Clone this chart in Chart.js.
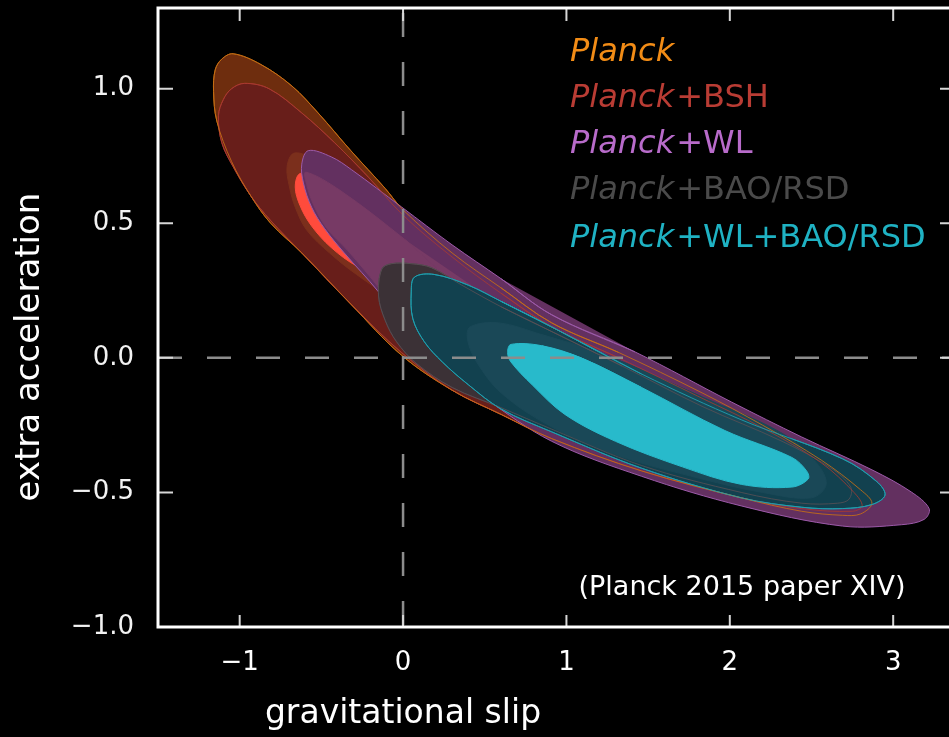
<!DOCTYPE html>
<html>
<head>
<meta charset="utf-8">
<script src="https://cdn.jsdelivr.net/npm/chart.js@4.4.1/dist/chart.umd.min.js"></script>
<style>
  html, body { margin: 0; padding: 0; background: #000; overflow: hidden; }
  canvas { display: block; }
</style>
</head>
<body>
<canvas id="myChart" width="960" height="737"></canvas>
<script>
// contour outlines, [gravitational slip, extra acceleration]
var planck95 = [
  [0.91, 0.13], [1.32, 0.02], [1.83, -0.13], [2.20, -0.25], [2.56, -0.38], [2.80, -0.49],
  [2.87, -0.54], [2.80, -0.58], [2.69, -0.585], [2.44, -0.57], [2.07, -0.52], [1.46, -0.42],
  [0.91, -0.30], [0.60, -0.21], [0.30, -0.12], [-0.01, 0.01], [-0.32, 0.20], [-0.62, 0.39],
  [-0.81, 0.50], [-0.93, 0.60], [-1.05, 0.73], [-1.14, 0.88], [-1.16, 0.99], [-1.15, 1.07],
  [-1.11, 1.11], [-1.04, 1.13], [-0.87, 1.09], [-0.68, 1.01], [-0.52, 0.91], [-0.32, 0.77],
  [-0.11, 0.63], [0.0, 0.55], [0.30, 0.39], [0.60, 0.26]
];
var planck68 = [
  [-0.315, 0.675], [-0.01, 0.535], [0.30, 0.38], [0.60, 0.255], [0.97, 0.12], [0.85, 0.10],
  [0.48, 0.165], [0.11, 0.21], [-0.10, 0.24], [-0.285, 0.31], [-0.45, 0.39], [-0.59, 0.475],
  [-0.66, 0.56], [-0.695, 0.635], [-0.71, 0.71], [-0.67, 0.76], [-0.56, 0.745]
];
var bsh95 = [
  [0.91, 0.115], [1.32, 0.0], [1.83, -0.15], [2.20, -0.26], [2.56, -0.39], [2.76, -0.50],
  [2.81, -0.55], [2.75, -0.57], [2.44, -0.56], [2.07, -0.52], [1.46, -0.42], [0.91, -0.30],
  [0.60, -0.21], [0.30, -0.12], [-0.01, 0.02], [-0.32, 0.20], [-0.62, 0.39], [-0.81, 0.51],
  [-0.93, 0.60], [-1.04, 0.71], [-1.11, 0.80], [-1.13, 0.90], [-1.10, 0.96], [-1.05, 1.0],
  [-0.97, 1.02], [-0.82, 1.0], [-0.62, 0.91], [-0.42, 0.80], [-0.21, 0.67], [0.0, 0.53],
  [0.30, 0.375], [0.60, 0.24]
];
var bsh68 = [
  [-0.25, 0.60], [0.11, 0.44], [0.60, 0.25], [1.09, 0.09], [1.34, 0.0], [1.15, -0.03],
  [0.73, 0.06], [0.30, 0.19], [-0.07, 0.29], [-0.28, 0.34], [-0.44, 0.41], [-0.56, 0.49],
  [-0.63, 0.565], [-0.66, 0.635], [-0.63, 0.685], [-0.50, 0.67]
];
var wl95 = [
  [0.91, 0.16], [1.42, 0.022], [2.01, -0.164], [2.44, -0.294], [2.87, -0.416], [3.11, -0.498],
  [3.22, -0.56], [3.19, -0.60], [3.05, -0.62], [2.69, -0.625], [2.07, -0.55], [1.46, -0.44],
  [0.91, -0.31], [0.50, -0.15], [0.19, -0.015], [0.01, 0.11], [-0.15, 0.245], [-0.36, 0.39],
  [-0.48, 0.48], [-0.56, 0.56], [-0.61, 0.65], [-0.62, 0.72], [-0.58, 0.77], [-0.44, 0.747],
  [-0.315, 0.699], [-0.01, 0.561], [0.30, 0.42], [0.60, 0.294]
];
var wl68 = [
  [0.30, 0.29], [0.73, 0.14], [1.22, -0.01], [1.83, -0.18], [2.07, -0.28], [1.95, -0.36],
  [1.52, -0.38], [0.91, -0.27], [0.48, -0.13], [0.20, -0.01], [0.025, 0.11], [-0.135, 0.25],
  [-0.34, 0.40], [-0.465, 0.48], [-0.545, 0.565], [-0.59, 0.645], [-0.595, 0.69], [-0.38, 0.62],
  [0.01, 0.44]
];
var bao95 = [
  [0.97, 0.08], [1.34, -0.03], [1.83, -0.18], [2.32, -0.31], [2.62, -0.41], [2.74, -0.48],
  [2.73, -0.525], [2.66, -0.54], [2.44, -0.54], [2.07, -0.50], [1.46, -0.40], [0.91, -0.265],
  [0.60, -0.185], [0.30, -0.11], [0.08, -0.02], [-0.04, 0.06], [-0.11, 0.14], [-0.15, 0.23],
  [-0.13, 0.33], [-0.07, 0.35], [0.05, 0.35], [0.175, 0.335], [0.36, 0.27], [0.60, 0.19]
];
var bao68 = [
  [1.22, 0.015], [1.83, -0.145], [2.32, -0.28], [2.53, -0.39], [2.59, -0.47], [2.50, -0.52],
  [2.20, -0.50], [1.83, -0.45], [1.30, -0.36], [0.89, -0.25], [0.60, -0.13], [0.45, -0.015],
  [0.395, 0.067], [0.41, 0.115], [0.585, 0.13], [0.85, 0.086]
];
var wlbao95 = [
  [0.91, 0.115], [1.46, -0.06], [2.07, -0.23], [2.69, -0.375], [2.90, -0.46], [2.95, -0.51],
  [2.87, -0.545], [2.69, -0.56], [2.44, -0.555], [2.07, -0.52], [1.46, -0.41], [0.91, -0.275],
  [0.60, -0.19], [0.40, -0.10], [0.24, -0.015], [0.13, 0.06], [0.06, 0.145], [0.05, 0.245],
  [0.07, 0.30], [0.19, 0.31], [0.40, 0.27], [0.60, 0.21]
];
var wlbao68 = [
  [1.09, 0.0], [1.46, -0.11], [1.97, -0.27], [2.38, -0.37], [2.47, -0.42], [2.48, -0.45],
  [2.38, -0.48], [2.07, -0.47], [1.71, -0.405], [1.30, -0.31], [0.99, -0.21], [0.79, -0.10],
  [0.66, -0.015], [0.64, 0.02], [0.66, 0.05], [0.85, 0.045]
];

var xTicks = [-1, 0, 1, 2, 3];
var yTicks = [-1, -0.5, 0, 0.5, 1];
var legendRest = ['', '+BSH', '+WL', '+BAO/RSD', '+WL+BAO/RSD'];
var legendColors = ['#f28c16', '#b93c34', '#b86bca', '#4a4a4a', '#1fb2c3'];

// wrap the ends so the spline closes without a kink
function loop(arr) {
  var n = arr.length;
  var seq = [arr[n - 1]].concat(arr, [arr[0], arr[1]]);
  return seq.map(function(p) { return {x: p[0], y: p[1]}; });
}

// bottom to top: [contour, fill, outline]; fill null = outline only (seen through)
var layers = [
  [planck95, '#6e2d0e', '#b8660f'],
  [bsh95, '#681e1a', '#a5382e'],
  [planck68, '#7b2f1c', '#7b2f1c'],
  [bsh68, '#ff4b3c', '#ff4b3c'],
  [wl95, '#633060', '#9c5aa9'],
  [wl68, '#773a65', '#773a65'],
  [bao95, '#3b3136', '#4a4045'],
  [wlbao95, '#12414f', '#1c9fae'],
  [bao68, '#1a4857', '#1a4857'],
  [bao95, null, 'rgba(90,80,85,0.8)'],
  [bsh95, null, 'rgba(170,58,48,0.8)'],
  [planck95, null, 'rgba(200,110,20,0.85)'],
  [wlbao95, null, 'rgba(30,160,175,0.9)'],
  [wlbao68, '#28bacb', '#28bacb']
];

var datasets = layers.map(function(l, i) {
  return {
    data: loop(l[0]),
    showLine: true,
    fill: l[1] ? 'shape' : false,
    backgroundColor: l[1] || 'transparent',
    borderColor: l[2],
    borderWidth: 1,
    tension: 0.35,
    pointRadius: 0,
    order: 100 - i
  };
});

// dashed zero lines on top
datasets.push({
  data: [{x: 0, y: 1.3}, {x: 0, y: -1}],
  showLine: true, fill: false, borderColor: '#8c8c8c', borderWidth: 2.5,
  borderDash: [24, 25], borderDashOffset: 44, pointRadius: 0, order: 1
});
datasets.push({
  data: [{x: -1.5, y: 0}, {x: 3.36, y: 0}],
  showLine: true, fill: false, borderColor: '#8c8c8c', borderWidth: 2.5,
  borderDash: [24, 25], pointRadius: 0, order: 1
});

function minus(s) { return s.replace('-', '\u2212'); }

var framePlugin = {
  id: 'frame',
  afterDraw: function(chart) {
    var ctx = chart.ctx, a = chart.chartArea;
    var xs = chart.scales.x, ys = chart.scales.y;
    ctx.save();
    ctx.strokeStyle = '#d6d6d6';
    ctx.lineWidth = 2;
    ctx.beginPath();
    xTicks.forEach(function(v) {
      var px = xs.getPixelForValue(v);
      ctx.moveTo(px, a.bottom); ctx.lineTo(px, a.bottom - 12);
      ctx.moveTo(px, a.top); ctx.lineTo(px, a.top + 13);
    });
    yTicks.forEach(function(v) {
      var py = ys.getPixelForValue(v);
      ctx.moveTo(a.left, py); ctx.lineTo(a.left + 15, py);
      ctx.moveTo(a.right, py); ctx.lineTo(a.right - 12, py);
    });
    ctx.stroke();
    ctx.strokeStyle = '#ffffff';
    ctx.lineWidth = 3;
    ctx.strokeRect(a.left, a.top, a.right - a.left, a.bottom - a.top);

    // legend
    ctx.textBaseline = 'alphabetic';
    ctx.textAlign = 'left';
    var base = [61, 107, 153, 199, 247];
    legendRest.forEach(function(rest, i) {
      ctx.fillStyle = legendColors[i];
      ctx.font = 'italic 32px "DejaVu Sans"';
      ctx.fillText('Planck', 570, base[i]);
      var w = ctx.measureText('Planck').width;
      ctx.font = '32px "DejaVu Sans"';
      ctx.fillText(rest, 570 + w + 2, base[i]);
    });

    // note
    ctx.fillStyle = '#ffffff';
    ctx.textAlign = 'center';
    ctx.textBaseline = 'middle';
    ctx.font = '27px "DejaVu Sans"';
    ctx.fillText('(Planck 2015 paper XIV)', 742, 588);

    // axis titles
    ctx.font = '33px "DejaVu Sans"';
    ctx.fillText('gravitational slip', 403, 714);
    ctx.translate(30, 347);
    ctx.rotate(-Math.PI / 2);
    ctx.font = '34px "DejaVu Sans"';
    ctx.fillText('extra acceleration', 0, 0);
    ctx.restore();
  }
};

var ctx = document.getElementById('myChart').getContext('2d');

var config = {
  type: 'scatter',
  data: { datasets: datasets },
  options: {
    responsive: false,
    animation: false,
    events: [],
    layout: { autoPadding: false, padding: { top: 8, right: 8, left: 0, bottom: 0 } },
    plugins: { legend: { display: false }, tooltip: { enabled: false } },
    scales: {
      x: {
        type: 'linear', min: -1.5, max: 3.36,
        grid: { display: false, drawTicks: false },
        border: { display: false },
        ticks: {
          stepSize: 1, includeBounds: false, autoSkip: false, maxRotation: 0,
          padding: 21, color: '#ffffff',
          font: { family: 'DejaVu Sans', size: 26 },
          callback: function(v) { return minus(String(v)); }
        },
        afterFit: function(s) {
          s.height = 110;
          s.paddingLeft = 0; s.paddingRight = 0; s.paddingTop = 0; s.paddingBottom = 0;
        }
      },
      y: {
        type: 'linear', min: -1, max: 1.3,
        grid: { display: false, drawTicks: false },
        border: { display: false },
        ticks: {
          stepSize: 0.5, includeBounds: false, autoSkip: false,
          padding: 24, color: '#f2f2f2',
          font: { family: 'DejaVu Sans', size: 26 },
          callback: function(v) { return minus(Number(v).toFixed(1)); }
        },
        afterFit: function(s) {
          s.width = 158;
          s.paddingLeft = 0; s.paddingRight = 0; s.paddingTop = 0; s.paddingBottom = 0;
        }
      }
    }
  },
  plugins: [framePlugin]
};

var chart = new Chart(ctx, config);
</script>
</body>
</html>
